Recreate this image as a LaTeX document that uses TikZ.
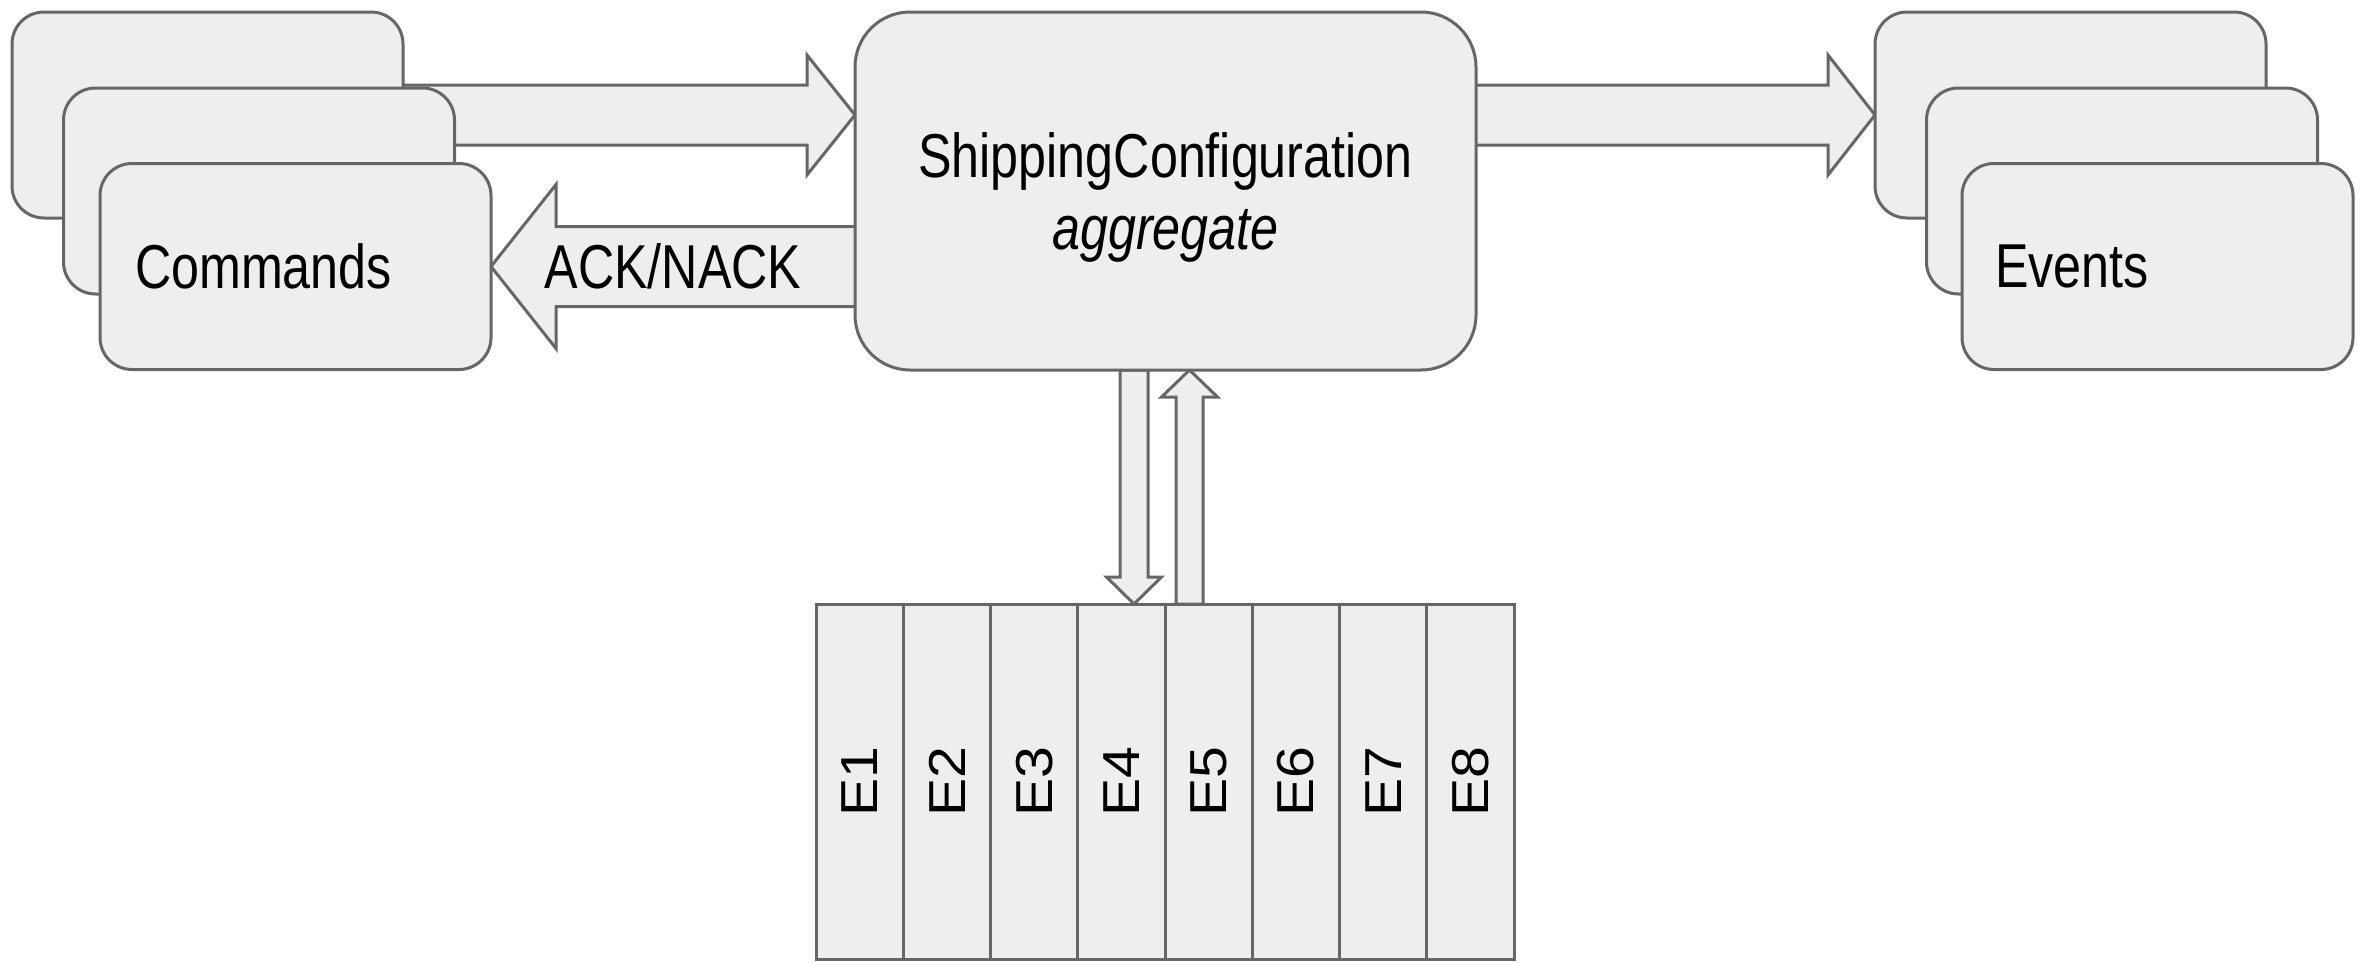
\documentclass[tikz,border=0pt]{standalone}
\usepackage{fontspec}
\setmainfont{Liberation Sans}
\newfontfamily\hfont[FakeStretch=0.81]{Liberation Sans}
\newfontfamily\vfont[FakeStretch=1.1]{Liberation Sans}
\usetikzlibrary{calc,backgrounds}
\definecolor{bordergray}{HTML}{666666}
\definecolor{boxfill}{HTML}{EEEEEE}
\tikzset{
  box/.style={draw=bordergray, fill=boxfill, line width=3pt, rounded corners=32pt,
    minimum width=391pt, minimum height=206pt, inner sep=0pt, outer sep=0pt,
    font=\hfont\fontsize{62}{72}\selectfont},
  mainbox/.style={box, rounded corners=55pt, minimum width=621pt, minimum height=358pt,
    align=center, text depth=0pt},
  ecell/.style={draw=bordergray, fill=boxfill, line width=3pt, minimum width=87.25pt,
    minimum height=355pt, inner sep=0pt, outer sep=0pt,
    font=\vfont\fontsize{52}{60}\selectfont},
  lbl/.style={inner sep=0pt, font=\hfont\fontsize{62}{72}\selectfont},
  barrow/.style={draw=bordergray, fill=boxfill, line width=3pt, line join=miter},
}
% #1 start, #2 tip, #3 shaft half width, #4 head half width, #5 head length
\newcommand\blockarrow[5]{%
  \path ($(#2)!#5!(#1)$) coordinate (blkhb);
  \draw[barrow] ($(#1)!#3!-90:(#2)$) -- ($(blkhb)!#3!-90:(#2)$) -- ($(blkhb)!#4!-90:(#2)$)
    -- (#2) -- ($(blkhb)!#4!90:(#2)$) -- ($(blkhb)!#3!90:(#2)$) -- ($(#1)!#3!90:(#2)$) -- cycle;
}
\begin{document}
\begin{tikzpicture}[x=1pt, y=-1pt]
\useasboundingbox (0,0) rectangle (2369,962);
% command stack
\node[box] (cmdA) at (207.5,115) {};
\node[box] (cmdB) at (259,191) {};
\node[box, text width=321pt, inner xsep=35pt, align=left] (cmd) at (295.5,266.5) {Commands};
% aggregate
\node[mainbox] (main) at (1165.5,191) {ShippingConfiguration\\\textit{aggregate}};
% event stack
\node[box] (evA) at (2070.5,115) {};
\node[box] (evB) at (2122,191) {};
\node[box, text width=325pt, inner xsep=33pt, align=left] (ev) at (2157.5,266.5) {Events};
% event store
\foreach \i in {1,...,8}
  \node[ecell] (e\i) at ({816+87.25*(\i-0.5)},781.5) {\rotatebox{90}{E\i}};
% arrows
\coordinate (c1t) at (main.west |- cmdA.center);
\coordinate (aks) at (main.center |- cmd.east);
\coordinate (evs) at (main.center |- evA.west);
\coordinate (dns) at ($(main.south)+(-31.5,0)$);
\coordinate (dnt) at (dns |- e4.north);
\coordinate (upt) at ($(main.south)+(24,0)$);
\coordinate (ups) at (upt |- e5.north);
\begin{scope}[on background layer]
  \blockarrow{cmdA.center}{c1t}{30pt}{60pt}{48pt}
  \blockarrow{aks}{cmd.east}{40pt}{82pt}{65pt}
  \blockarrow{evs}{evA.west}{30pt}{60pt}{47pt}
  \blockarrow{dns}{dnt}{14pt}{27.5pt}{27pt}
  \blockarrow{ups}{upt}{13.5pt}{28pt}{27pt}
\end{scope}
\node[lbl] (ack) at ($(cmd.east)!0.5!(main.west |- cmd.east)$) {ACK/NACK};
\end{tikzpicture}
\end{document}
